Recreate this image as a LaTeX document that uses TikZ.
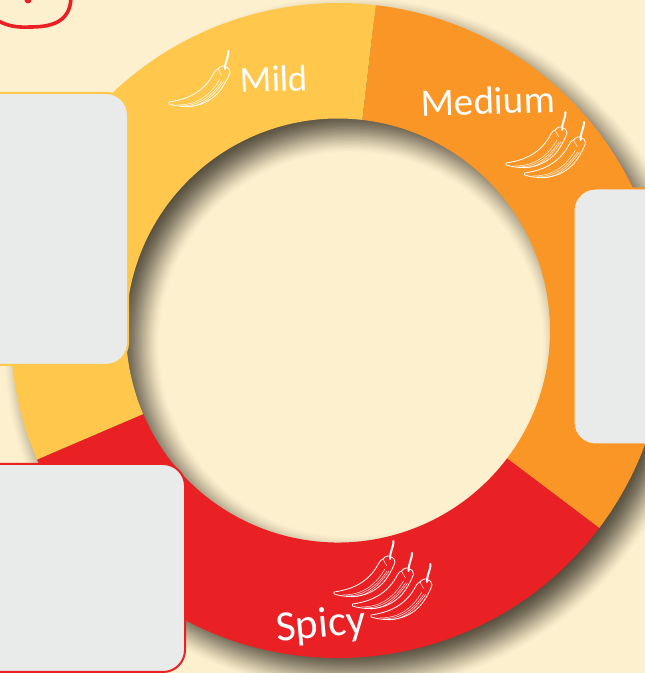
\documentclass[tikz,border=0pt]{standalone}
\usepackage{fontspec}
\usetikzlibrary{calc}
\setmainfont{Carlito}
\definecolor{bgc}{RGB}{253,240,207}
\definecolor{mildc}{RGB}{255,200,77}
\definecolor{medc}{RGB}{250,150,38}
\definecolor{hotc}{RGB}{234,33,36}
\definecolor{boxc}{RGB}{233,235,234}
\definecolor{shadc}{RGB}{62,58,44}
\tikzset{
  x=1pt,y=1pt,
  panel/.style={fill=boxc,line width=2pt,rounded corners=22pt,inner sep=0pt,outer sep=0pt,anchor=north west},
  lab/.style={text=white,inner sep=0pt,font=\fontsize{37}{37}\selectfont},
  chili/.pic={
    \draw[white,line width=.8pt,line join=round]
      (0,0) .. controls (14,2) and (31,7) .. (42,24) .. controls (45,29) and (46,32) .. (49,33)
      .. controls (51,36) and (55,37) .. (57,35) .. controls (59,35) and (61,33) .. (61,30)
      .. controls (60,26) and (54,14) .. (48,8) .. controls (37,-3) and (20,-8) .. (0,-2) -- cycle;
    \draw[white,line width=2pt,line cap=round] (56,33) .. controls (56,41) and (60,46) .. (59.5,51);
    \draw[white,line width=.45pt] (8,-3) .. controls (25,-3) and (39,3) .. (51,23);
    \draw[white,line width=.45pt] (12,-4) .. controls (27,-4) and (40,2) .. (53,21);
    \draw[white,line width=.45pt] (17,-5) .. controls (30,-5) and (42,2) .. (55,21);
    \draw[white,line width=.45pt] (49,33) .. controls (50,30) and (52,28) .. (53,26);
  }
}
\begin{document}
\begin{tikzpicture}
\useasboundingbox (0,0) rectangle (645,673);
\clip (0,0) rectangle (645,673);
\fill[bgc] (0,0) rectangle (645,673);
\coordinate (c) at (338,342.5);
% soft shadow of the ring
\foreach \i in {1,...,30}{
  \pgfmathsetmacro{\ro}{327.5+21-42*\i/30}
  \pgfmathsetmacro{\ri}{212-21+42*\i/30}
  \pgfmathsetmacro{\op}{.012+.11*\i/30}
  \fill[shadc,opacity=\op,even odd rule] ([shift={(13,-14)}]c) circle[radius=\ro pt] ([shift={(13,-14)}]c) circle[radius=\ri pt];
}
% ring sectors
\fill[medc] ($(c)+(83.4:327.5pt)$) arc[start angle=83.4,end angle=-37.1,radius=327.5pt]
  -- ($(c)+(-37.1:212pt)$) arc[start angle=-37.1,end angle=83.4,radius=212pt] -- cycle;
\fill[hotc] ($(c)+(-37.1:327.5pt)$) arc[start angle=-37.1,end angle=-156.8,radius=327.5pt]
  -- ($(c)+(-156.8:212pt)$) arc[start angle=-156.8,end angle=-37.1,radius=212pt] -- cycle;
\fill[mildc] ($(c)+(203.2:327.5pt)$) arc[start angle=203.2,end angle=83.4,radius=327.5pt]
  -- ($(c)+(83.4:212pt)$) arc[start angle=83.4,end angle=203.2,radius=212pt] -- cycle;
% chillies
\pic at (169,571) {chili};
\pic at (506,510) {chili};
\pic at (524.5,500) {chili};
\pic at (334,81) {chili};
\pic at (352.5,69) {chili};
\pic at (371,58) {chili};
% labels
\node[lab,rotate=2] (mild) at (274,594) {Mild};
\node[lab,rotate=2,font=\fontsize{39}{39}\selectfont] (medium) at (488,572) {Medium};
\node[lab,rotate=5,font=\fontsize{43}{43}\selectfont] (spicy) at (321,47) {Spicy};
% panels
\node[panel,draw=mildc,minimum width=158pt,minimum height=272pt] (pmild) at (-30,580) {};
\node[panel,draw=medc,minimum width=120pt,minimum height=256pt] (pmed) at (573.5,484.5) {};
\node[panel,draw=hotc,minimum width=215pt,minimum height=208pt] (phot) at (-30,209) {};
% corner mark
\draw[hotc,line width=3.6pt,line cap=round] (-3,653) .. controls (8,646) and (20,645.5) .. (30,646)
  .. controls (50,646) and (70,650) .. (71,675);
\fill[hotc] (28,673) circle[radius=3.5pt];
\end{tikzpicture}
\end{document}
